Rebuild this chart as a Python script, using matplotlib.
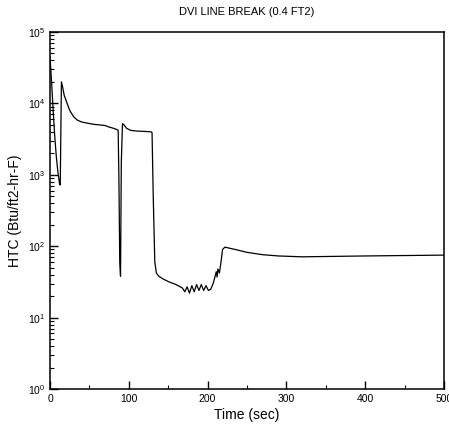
import matplotlib
matplotlib.use("Agg")
import matplotlib.pyplot as plt
from matplotlib.ticker import LogLocator, MultipleLocator, NullFormatter

plt.rcParams['font.family'] = ['Liberation Sans', 'DejaVu Sans']

# HTC history (time in s, HTC in Btu/ft2-hr-F)
time_s = [0, 2, 4, 6, 8, 10, 12, 13, 14.5, 16,
          18, 21, 25, 30, 35, 40, 47, 55, 63, 70,
          74, 77, 80, 85, 86.5, 87.5, 88.5, 89.5, 90.5, 92,
          94, 97, 102, 110, 120, 128, 129.5, 131, 133, 135,
          138, 143, 150, 160, 168, 171, 174, 177, 180, 183,
          186, 189, 192, 195, 198, 201, 204, 207, 209, 211,
          212, 213, 215, 217, 219, 222, 235, 250, 270, 290,
          320, 360, 400, 450, 500]
htc = [45000, 20000, 8000, 3500, 1800, 1100, 760, 720, 20000, 17000,
       13000, 10500, 8000, 6500, 5800, 5500, 5300, 5100, 5000, 4900,
       4700, 4600, 4500, 4300, 4200, 800, 60, 38, 1500, 5200,
       5000, 4500, 4200, 4100, 4050, 4000, 3900, 500, 60, 42,
       38, 35, 32, 29, 26, 23, 27, 22, 28, 23,
       29, 24, 29, 24, 28, 24, 25, 30, 36, 44,
       37, 48, 42, 60, 90, 97, 90, 82, 76, 73,
       71, 72, 73, 74, 75]

yticks = [1, 10, 100, 1000, 10000, 100000]
xticks = [0, 100, 200, 300, 400, 500]

fig = plt.figure(figsize=(4.49, 4.26), dpi=100)
ax = fig.add_axes([50 / 449, 1 - 389 / 426, 394 / 449, 357 / 426])

ax.plot(time_s, htc, color='black', lw=0.9)

ax.set_yscale('log')
ax.set_ylim(1, 1e5)
ax.set_xlim(0, 500)
ax.set_yticks(yticks)
ax.set_xticks(xticks)
ax.xaxis.set_minor_locator(MultipleLocator(50))
ax.yaxis.set_minor_locator(LogLocator(base=10, subs=range(2, 10)))
ax.yaxis.set_minor_formatter(NullFormatter())

ax.tick_params(which='both', direction='in', top=False, right=False)
ax.tick_params(which='major', length=6, width=1, labelsize=7.5)
ax.tick_params(which='minor', length=3, width=0.8)
for sp in ax.spines.values():
    sp.set_linewidth(1.1)

ax.set_title('DVI LINE BREAK (0.4 FT2)', fontsize=8, pad=12)
ax.set_xlabel('Time (sec)', fontsize=10, labelpad=3)
ax.set_ylabel('HTC (Btu/ft2-hr-F)', fontsize=10, labelpad=4)

fig.savefig('out.png', dpi=100)
